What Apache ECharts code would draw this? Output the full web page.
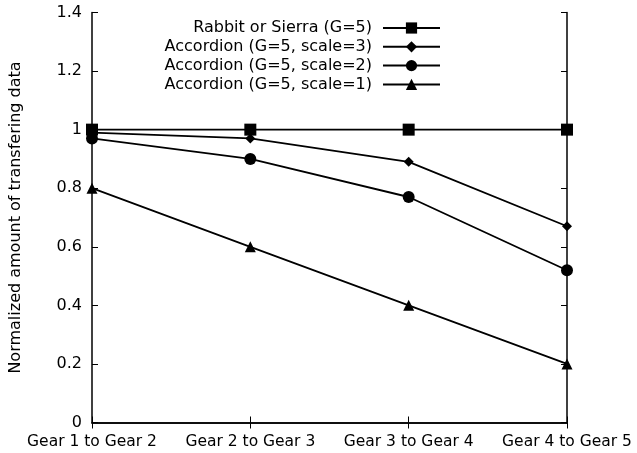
<!DOCTYPE html>
<html>
<head>
    <meta charset="utf-8">
    <title>Transfering data</title>
    <script src="https://cdn.jsdelivr.net/npm/echarts@6/dist/echarts.min.js"></script>
</head>
<body style="margin:0">
<div id="main" style="width:637px;height:453px;"></div>
<script type="text/javascript">
    var categories = ['Gear 1 to Gear 2', 'Gear 2 to Gear 3', 'Gear 3 to Gear 4', 'Gear 4 to Gear 5'];
    var seriesNames = ['Rabbit or Sierra (G=5)', 'Accordion (G=5, scale=3)', 'Accordion (G=5, scale=2)', 'Accordion (G=5, scale=1)'];
    var rabbit = [1, 1, 1, 1];
    var scale3 = [0.99, 0.97, 0.89, 0.67];
    var scale2 = [0.97, 0.90, 0.77, 0.52];
    var scale1 = [0.80, 0.60, 0.40, 0.20];

    var font = 'DejaVu Sans';
    var symbols = ['rect', 'diamond', 'circle', 'triangle'];
    var sizes = [12, 10, 12, 11];
    var values = [rabbit, scale3, scale2, scale1];

    var series = values.map(function (v, i) {
        return {
            name: seriesNames[i],
            type: 'line',
            data: v,
            symbol: symbols[i],
            symbolSize: sizes[i],
            showAllSymbol: true,
            z: 10 - i,
            lineStyle: {color: '#000', width: 1.8},
            itemStyle: {color: '#000'}
        };
    });

    var myChart = echarts.init(document.getElementById('main'));
    myChart.setOption({
        animation: false,
        textStyle: {fontFamily: font, color: '#000'},
        grid: {left: 92, right: 70, top: 12.5, bottom: 30.5},
        legend: {
            orient: 'vertical',
            align: 'right',
            right: 191,
            top: 15,
            itemWidth: 57,
            itemHeight: 14,
            itemGap: 2.8,
            textStyle: {fontFamily: font, fontSize: 16, color: '#000', padding: [0, 6, 0, 0]},
            data: seriesNames
        },
        xAxis: [{
            type: 'category',
            data: categories,
            boundaryGap: false,
            axisLine: {lineStyle: {color: '#000', width: 1.5}},
            axisTick: {inside: true, length: 6, lineStyle: {color: '#000'}},
            axisLabel: {fontFamily: font, fontSize: 15.5, color: '#000', margin: 11, interval: 0}
        }, {
            type: 'category',
            data: categories,
            position: 'top',
            boundaryGap: false,
            axisLine: {lineStyle: {color: '#000', width: 1.5}},
            axisTick: {inside: true, length: 6, lineStyle: {color: '#000'}},
            axisLabel: {show: false}
        }],
        yAxis: [{
            type: 'value',
            min: 0,
            max: 1.4,
            interval: 0.2,
            name: 'Normalized amount of transfering data',
            nameLocation: 'middle',
            nameGap: 68,
            nameTextStyle: {fontFamily: font, fontSize: 16, color: '#000'},
            axisLine: {show: true, lineStyle: {color: '#000', width: 1.5}},
            axisTick: {show: true, inside: true, length: 6, lineStyle: {color: '#000'}},
            axisLabel: {fontFamily: font, fontSize: 16, color: '#000', margin: 10},
            splitLine: {show: false}
        }, {
            type: 'value',
            min: 0,
            max: 1.4,
            interval: 0.2,
            position: 'right',
            axisLine: {show: true, lineStyle: {color: '#000', width: 1.5}},
            axisTick: {show: true, inside: true, length: 6, lineStyle: {color: '#000'}},
            axisLabel: {show: false},
            splitLine: {show: false}
        }],
        series: series
    });
</script>
</body>
</html>
